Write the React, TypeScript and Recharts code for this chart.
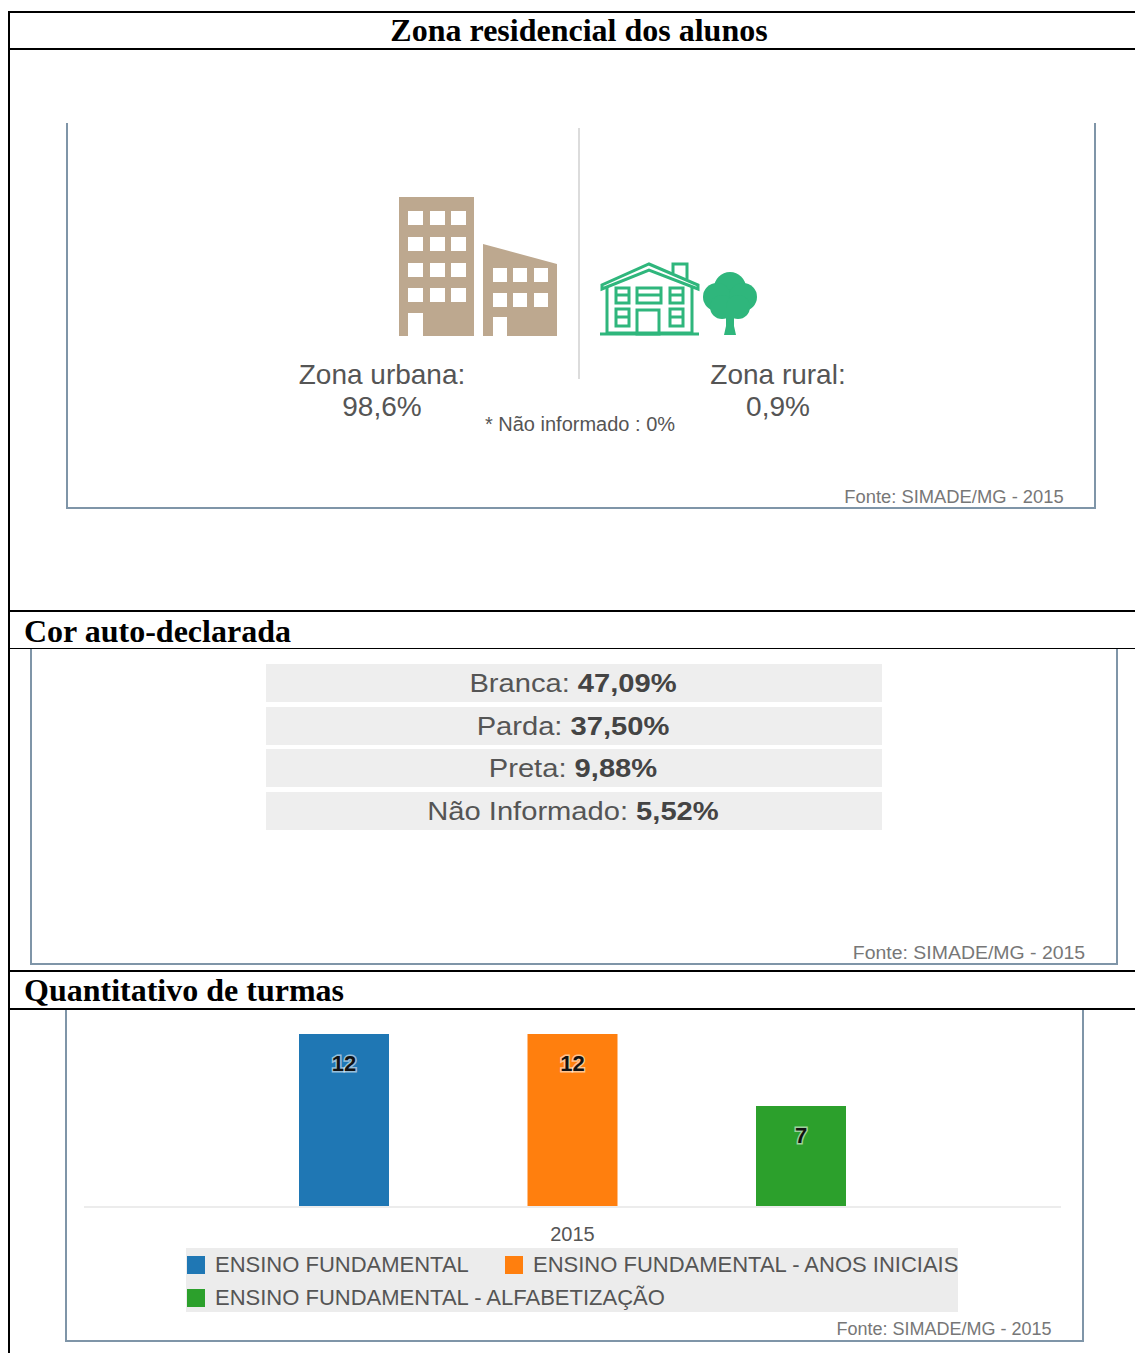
import React from 'react';
import { BarChart, Bar, XAxis, YAxis, LabelList, Legend } from 'recharts';

const SANS = '"Liberation Sans", Arial, sans-serif';
const SERIF = '"Liberation Serif", "Times New Roman", serif';

// zona residencial
const zoneNames = ['Zona urbana:', 'Zona rural:'];
const zoneValues = ['98,6%', '0,9%'];
const zoneNote = '* Não informado : 0%';

// cor auto-declarada
const raceNames = ['Branca:', 'Parda:', 'Preta:', 'Não Informado:'];
const raceValues = ['47,09%', '37,50%', '9,88%', '5,52%'];

// quantitativo de turmas
const years = ['2015'];
const seriesNames = ['ENSINO FUNDAMENTAL', 'ENSINO FUNDAMENTAL - ANOS INICIAIS', 'ENSINO FUNDAMENTAL - ALFABETIZAÇÃO'];
const seriesValues = [12, 12, 7];
const seriesColors = ['#1f77b4', '#ff7f0e', '#2ca02c'];

const source = 'Fonte: SIMADE/MG - 2015';

const chartData = years.map(year => ({
  year,
  s0: seriesValues[0],
  s1: seriesValues[1],
  s2: seriesValues[2],
}));

function Rule({ x, y, w, h, color = '#000' }: { x: number; y: number; w: number; h: number; color?: string }) {
  return <div style={{ position: 'absolute', left: x, top: y, width: w, height: h, background: color }} />;
}

function Text({ x, y, size, color = '#555', anchor = 'center', stretch = 1, style, children }: any) {
  // x is the anchor point, y the vertical centre of the line
  const translate = anchor === 'center' ? '-50%' : '0';
  return (
    <div
      style={{
        position: 'absolute',
        left: x,
        top: y,
        transform: `translate(${translate}, -50%) scaleX(${stretch})`,
        fontFamily: SANS,
        fontSize: size,
        color,
        whiteSpace: 'nowrap',
        lineHeight: 1,
        ...style,
      }}
    >
      {children}
    </div>
  );
}

function Title({ x, y, center, children }: { x: number; y: number; center?: boolean; children: React.ReactNode }) {
  return (
    <Text x={x} y={y} size={32} color="#000" anchor={center ? 'center' : 'left'} style={{ fontFamily: SERIF, fontWeight: 700 }}>
      {children}
    </Text>
  );
}

function Panel({ left, right, top, bottom }: { left: number; right: number; top: number; bottom: number }) {
  const color = '#7f95a8';
  return (
    <>
      <Rule x={left} y={top} w={2} h={bottom - top} color={color} />
      <Rule x={right - 2} y={top} w={2} h={bottom - top} color={color} />
      <Rule x={left} y={bottom - 2} w={right - left} h={2} color={color} />
    </>
  );
}

function Icons() {
  const tan = '#bda88f';
  const green = '#2fb67c';
  const bigCols = [408, 430, 451];
  const bigRows = [211, 237, 263, 288];
  const smallCols = [493, 513, 534];
  const smallRows = [268, 293];
  return (
    <svg width={1135} height={400} style={{ position: 'absolute', left: 0, top: 0 }}>
      <rect x={399} y={197} width={75} height={139} fill={tan} />
      {bigRows.map(y => bigCols.map(x => <rect key={`${x}-${y}`} x={x} y={y} width={15} height={14} fill="#fff" />))}
      <rect x={408} y={313} width={15} height={23} fill="#fff" />
      <polygon points="483,244 557,264 557,336 483,336" fill={tan} />
      {smallRows.map(y => smallCols.map(x => <rect key={`${x}-${y}`} x={x} y={y} width={14} height={14} fill="#fff" />))}
      <rect x={493} y={317} width={14} height={19} fill="#fff" />

      <g fill="none" stroke={green} strokeWidth={3}>
        <polygon points="649,264 698,285 698,289 649,270 602,289 602,285" />
        <polyline points="673,273 673,264 687,264 687,279" />
        <polyline points="607,287 607,333 692,333 692,287" />
        <line x1={600} y1={334} x2={699} y2={334} />
        <rect x={616} y={288} width={13} height={15} />
        <rect x={637} y={288} width={24} height={15} />
        <rect x={670} y={288} width={13} height={15} />
        <rect x={616} y={309} width={13} height={17} />
        <rect x={637} y={310} width={22} height={24} />
        <rect x={670} y={309} width={13} height={17} />
        <line x1={616} y1={295} x2={629} y2={295} />
        <line x1={637} y1={295} x2={661} y2={295} />
        <line x1={670} y1={295} x2={683} y2={295} />
        <line x1={616} y1={317} x2={629} y2={317} />
        <line x1={670} y1={317} x2={683} y2={317} />
      </g>
      <g fill={green}>
        <circle cx={730} cy={288} r={16} />
        <circle cx={717} cy={297} r={14} />
        <circle cx={743} cy={297} r={14} />
        <circle cx={722} cy={307} r={12} />
        <circle cx={738} cy={307} r={12} />
        <polygon points="726,308 734,308 734,326 736,335 724,335 726,326" />
      </g>
    </svg>
  );
}

function BarValue({ x, y, width, value }: any) {
  return (
    <text
      x={x + width / 2}
      y={y + 29}
      textAnchor="middle"
      dominantBaseline="central"
      fontFamily={SANS}
      fontSize={22}
      fontWeight={700}
      fill="#111"
      stroke="#fff"
      strokeOpacity={0.55}
      strokeWidth={3}
      paintOrder="stroke"
    >
      {value}
    </text>
  );
}

function LegendBox() {
  const rows = [
    { y: 0, items: [{ i: 0, x: 0 }, { i: 1, x: 318 }] },
    { y: 33, items: [{ i: 2, x: 0 }] },
  ];
  return (
    <div style={{ position: 'relative', width: 772, height: 64, background: '#ececec', fontFamily: SANS }}>
      {rows.map(row =>
        row.items.map(({ i, x }) => (
          <div key={i} style={{ position: 'absolute', left: x + 1, top: row.y + 8, display: 'flex', alignItems: 'center', height: 18 }}>
            <span style={{ display: 'inline-block', width: 18, height: 18, background: seriesColors[i], marginRight: 10 }} />
            <span style={{ fontSize: 22, color: '#555', whiteSpace: 'nowrap' }}>{seriesNames[i]}</span>
          </div>
        ))
      )}
    </div>
  );
}

function TurmasChart() {
  return (
    <div style={{ position: 'absolute', left: 0, top: 1010 }}>
      <BarChart
        width={1135}
        height={302}
        data={chartData}
        margin={{ top: 24, right: 74, left: 84, bottom: 0 }}
        barSize={90}
        barGap={138.5}
      >
        <YAxis hide domain={[0, 12]} />
        <XAxis
          dataKey="year"
          height={41}
          tickLine={false}
          axisLine={{ stroke: '#ececec', strokeWidth: 2 }}
          tickMargin={14}
          tick={{ fill: '#555', fontSize: 20, fontFamily: SANS }}
        />
        <Legend
          content={() => <LegendBox />}
          verticalAlign="bottom"
          align="left"
          wrapperStyle={{ left: 186, bottom: 0, width: 772, height: 64 }}
        />
        {seriesNames.map((name, i) => (
          <Bar key={name} dataKey={`s${i}`} name={name} fill={seriesColors[i]} isAnimationActive={false}>
            <LabelList dataKey={`s${i}`} content={<BarValue />} />
          </Bar>
        ))}
      </BarChart>
    </div>
  );
}

export default function App() {
  const rowTops = [664, 707, 749, 792];
  return (
    <div style={{ position: 'absolute', left: 0, top: 0, width: 1135, height: 1353, overflow: 'hidden', background: '#fff' }}>
      {/* table lines */}
      <Rule x={8} y={11} w={2} h={1342} />
      <Rule x={8} y={11} w={1127} h={2} />
      <Rule x={8} y={48} w={1127} h={2} />
      <Rule x={8} y={610} w={1127} h={2} />
      <Rule x={8} y={648} w={1127} h={1} />
      <Rule x={8} y={970} w={1127} h={2} />
      <Rule x={8} y={1008} w={1127} h={2} />

      <Title x={579} y={30} center>Zona residencial dos alunos</Title>
      <Title x={24} y={631}>Cor auto-declarada</Title>
      <Title x={24} y={990}>Quantitativo de turmas</Title>

      <Panel left={66} right={1096} top={123} bottom={509} />
      <Panel left={30} right={1118} top={649} bottom={965} />
      <Panel left={65} right={1084} top={1010} bottom={1342} />

      <Icons />
      <Rule x={578} y={128} w={2} h={251} color="#dcdcdc" />
      <Text x={382} y={375} size={28}>{zoneNames[0]}</Text>
      <Text x={382} y={407} size={28}>{zoneValues[0]}</Text>
      <Text x={778} y={375} size={28}>{zoneNames[1]}</Text>
      <Text x={778} y={407} size={28}>{zoneValues[1]}</Text>
      <Text x={580} y={424} size={20}>{zoneNote}</Text>
      <Text x={954} y={497} size={18} color="#777" stretch={1.02}>{source}</Text>

      {raceNames.map((name, i) => (
        <React.Fragment key={name}>
          <Rule x={266} y={rowTops[i]} w={616} h={38} color="#eeeeee" />
          <Text x={573} y={rowTops[i] + 19} size={26} stretch={1.12}>
            {name} <b style={{ color: '#444' }}>{raceValues[i]}</b>
          </Text>
        </React.Fragment>
      ))}
      <Text x={969} y={953} size={18} color="#777" stretch={1.08}>{source}</Text>

      <TurmasChart />
      <Text x={944} y={1329} size={18} color="#777">{source}</Text>
    </div>
  );
}
